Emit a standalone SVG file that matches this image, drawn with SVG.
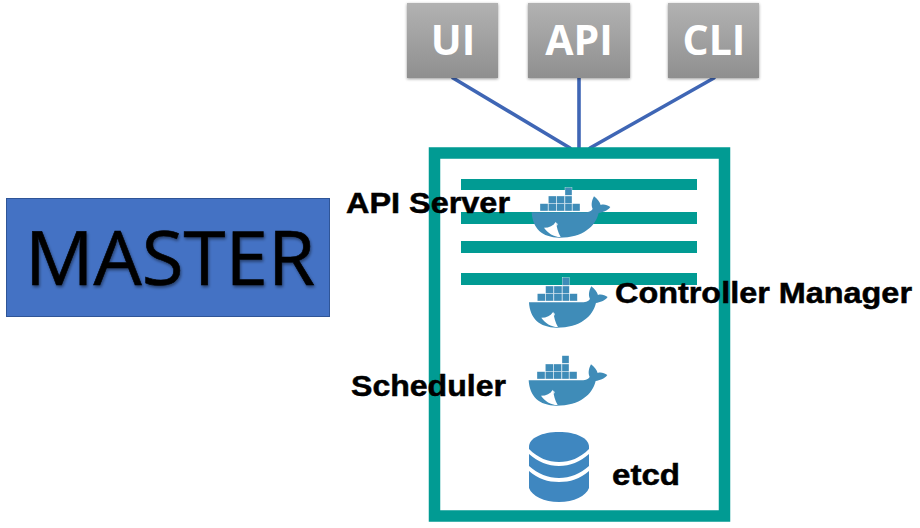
<svg xmlns="http://www.w3.org/2000/svg" xmlns:xlink="http://www.w3.org/1999/xlink" width="920" height="528" viewBox="0 0 920 528">
<style>
.lbl{font-family:"Liberation Sans",Arial,sans-serif;font-weight:700;font-size:29px;fill:#000;stroke:#000;stroke-width:.5}
.btn{font-family:"Open Sans","Noto Sans",sans-serif;font-weight:700;font-size:41px;fill:#fff;text-anchor:middle}
.box{fill:url(#grey);filter:url(#shadow)}
.bar{fill:#019b93}
.conn{stroke:#3f66b5;stroke-width:3.600;fill:none;stroke-linecap:round}
.cargo{fill:#3f8cb8;stroke:#fff;stroke-width:1}
.hull{fill:#3f8cb8}
</style>
<defs>
<linearGradient id="grey" x1="0" y1="0" x2="0" y2="1"><stop offset="0" stop-color="#b2b2b2"/><stop offset="1" stop-color="#8f8f8f"/></linearGradient>
<filter id="shadow" x="-10%" y="-10%" width="120%" height="125%"><feDropShadow dx="0" dy="1" stdDeviation="1.500" flood-color="#000" flood-opacity=".4"/></filter>
<filter id="txt" x="-5%" y="-10%" width="110%" height="125%"><feDropShadow dx="1" dy="2" stdDeviation="1.500" flood-color="#000" flood-opacity=".45"/></filter>
<g id="whale" transform="scale(.3333)">
<rect class="cargo" x="135" y="8" width="21" height="23"/>
<rect class="cargo" x="85" y="33" width="24" height="23"/><rect class="cargo" x="110" y="33" width="24" height="23"/><rect class="cargo" x="135" y="33" width="21" height="23"/>
<rect class="cargo" x="60" y="56" width="24" height="22"/><rect class="cargo" x="85" y="56" width="24" height="22"/><rect class="cargo" x="110" y="56" width="24" height="22"/><rect class="cargo" x="135" y="56" width="21" height="22"/><rect class="cargo" x="157" y="56" width="23" height="22"/>
<path class="hull" d="M35 82H190C203 82 213 80 218 72C212 60 216 45 222 34C232 42 240 52 242 60C252 57 262 60 271 66C262 78 248 82 236 84C226 124 190 158 118 158C66 158 38 130 35 82Z"/>
<path fill="#fff" d="M72 128C88 128 100 122 108 110C110 126 114 142 122 156C100 156 84 144 72 128Z"/>
<circle cx="108" cy="118" r="5" fill="#fff" opacity=".7"/>
</g>
</defs>
<rect width="920" height="528" fill="#fff"/>
<g id="connectors">
<line class="conn" x1="453" y1="78" x2="570" y2="148"/>
<line class="conn" x1="579" y1="78" x2="579" y2="148"/>
<line class="conn" x1="714" y1="78" x2="590" y2="148"/>
</g>
<g id="master"><rect x="6.500" y="198.500" width="323" height="118" fill="#4472c4" stroke="#2f5597"/>
<text x="25" y="285" font-family="'Open Sans','Noto Sans',sans-serif" font-size="75" textLength="290" lengthAdjust="spacingAndGlyphs" fill="#000" stroke="#000" stroke-width=".6" filter="url(#txt)">MASTER</text></g>
<g id="ui"><rect class="box" x="407" y="3" width="91" height="75"/><text class="btn" x="453" y="55">UI</text></g>
<g id="api"><rect class="box" x="528" y="3" width="102" height="75"/><text class="btn" x="579" y="55">API</text></g>
<g id="cli"><rect class="box" x="668" y="3" width="91" height="75"/><text class="btn" x="714" y="55">CLI</text></g>
<g id="frame"><rect x="434.500" y="153" width="290" height="363" fill="none" stroke="#019b93" stroke-width="11.500"/>
<rect class="bar" x="461" y="179" width="236" height="11"/><rect class="bar" x="461" y="212" width="236" height="12"/><rect class="bar" x="461" y="241" width="236" height="12"/><rect class="bar" x="461" y="273" width="236" height="12"/></g>
<g id="api-server"><use xlink:href="#whale" href="#whale" transform="translate(520 185)"/><text class="lbl" x="346" y="213" textLength="164" lengthAdjust="spacingAndGlyphs">API Server</text></g>
<g id="controller-manager"><use xlink:href="#whale" href="#whale" transform="translate(517.300 275)"/><text class="lbl" x="615" y="303" textLength="297" lengthAdjust="spacingAndGlyphs">Controller Manager</text></g>
<g id="scheduler"><use xlink:href="#whale" href="#whale" transform="translate(517 353)"/><text class="lbl" x="351" y="396" textLength="155" lengthAdjust="spacingAndGlyphs">Scheduler</text></g>
<g id="etcd">
<path fill="#3f87c0" d="M529 447C529 438 542 432 559 432C576 432 589 438 589 447V449C580 458 570 462 559 462C548 462 538 458 529 449Z"/>
<path fill="#3f87c0" d="M529 454C538 462 548 466 559 466C570 466 580 462 589 454V466C580 474 570 478 559 478C548 478 538 474 529 466Z"/>
<path fill="#3f87c0" d="M529 471C538 479 548 482 559 482C570 482 580 479 589 471V488C586 496 574 502 559 502C544 502 532 496 529 488Z"/>
<text class="lbl" x="612" y="485" textLength="68" lengthAdjust="spacingAndGlyphs">etcd</text></g>
</svg>
